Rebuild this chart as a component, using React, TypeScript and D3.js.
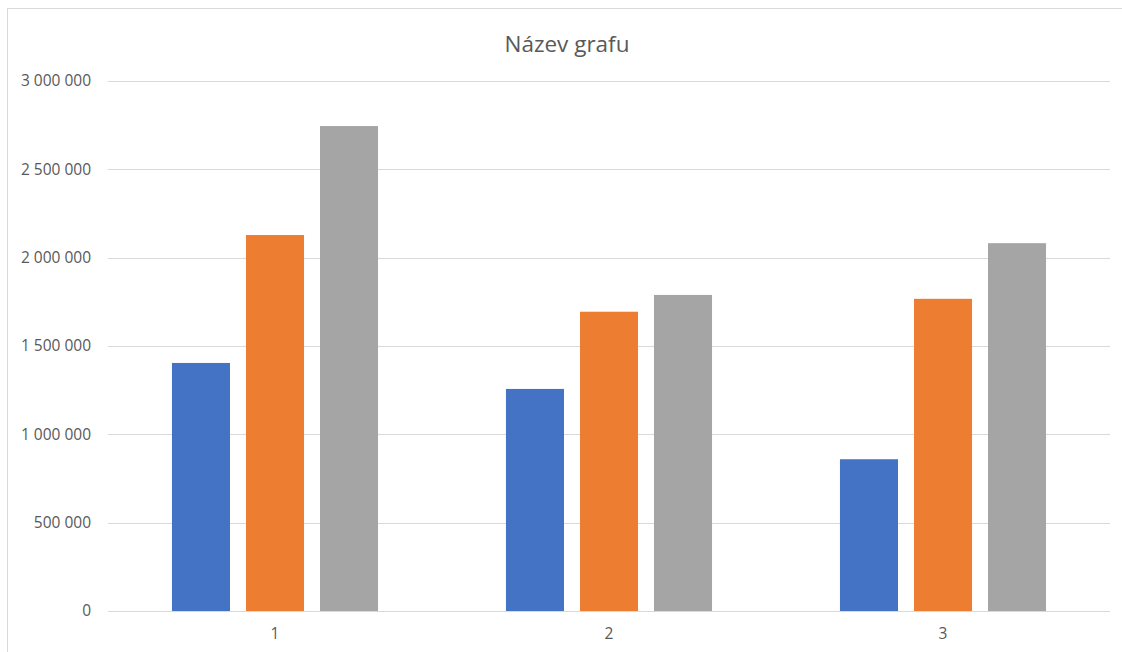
import React from "react";
import * as d3 from "d3";

const categories = ["1", "2", "3"];
const seriesNames = ["Řada 1", "Řada 2", "Řada 3"];
const series1 = [1404000, 1257000, 859000];
const series2 = [2128000, 1694000, 1767000];
const series3 = [2745000, 1789000, 2082000];
const yTicks = [0, 500000, 1000000, 1500000, 2000000, 2500000, 3000000];
const colors = ["#4472C4", "#ED7D31", "#A5A5A5"];
const title = "Název grafu";

const W = 1122;
const H = 652;
const plot = { left: 108, right: 1110, top: 81, bottom: 611 };
const FONT = "'Open Sans', 'Noto Sans', sans-serif";

export default function App() {
  const values = [series1, series2, series3];
  const y = d3.scaleLinear().domain([0, 3000000]).range([plot.bottom, plot.top]);
  const x0 = d3.scaleBand<string>().domain(categories).range([plot.left, plot.right]).padding(0);
  const groupW = x0.bandwidth() * 0.617;
  const off = (x0.bandwidth() - groupW) / 2;
  const x1 = d3.scaleBand<string>().domain(seriesNames).range([off, off + groupW]).paddingInner(0.216).paddingOuter(0);
  const locale = d3.formatLocale({ decimal: ",", thousands: "\u00a0", grouping: [3], currency: ["", ""] });
  const fmt = locale.format(",d");

  return (
    <div style={{ position: "fixed", left: 0, top: 0, width: W, height: H, background: "#fff" }}>
      <svg width={W} height={H} style={{ display: "block" }}>
        <rect x={7.5} y={8.5} width={W + 20} height={H + 20} fill="#fff" stroke="#d9d9d9" strokeWidth={1} />
        <text x={567} y={52} textAnchor="middle" fontFamily={FONT} fontSize={22.5} fill="#595959">
          {title}
        </text>
        {yTicks.map((t) => (
          <g key={t}>
            <line x1={plot.left} x2={plot.right} y1={Math.round(y(t)) + 0.5} y2={Math.round(y(t)) + 0.5} stroke="#d9d9d9" strokeWidth={1} />
            <text x={91} y={y(t)} dy="0.35em" textAnchor="end" fontFamily={FONT} fontSize={15.5} fill="#595959">
              {fmt(t)}
            </text>
          </g>
        ))}
        {categories.map((c, ci) => (
          <g key={c} transform={`translate(${x0(c)},0)`}>
            {seriesNames.map((s, si) => (
              <rect
                key={s}
                x={x1(s)}
                y={y(values[si][ci])}
                width={x1.bandwidth()}
                height={y(0) - y(values[si][ci])}
                fill={colors[si]}
              />
            ))}
            <text x={x0.bandwidth() / 2} y={634} dy="0.35em" textAnchor="middle" fontFamily={FONT} fontSize={15.5} fill="#595959">
              {c}
            </text>
          </g>
        ))}
      </svg>
    </div>
  );
}
